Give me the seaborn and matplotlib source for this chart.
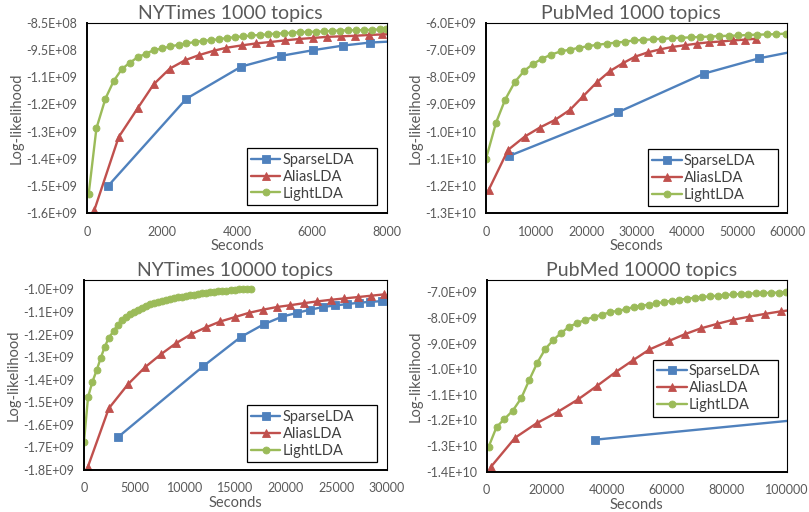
import matplotlib
matplotlib.use("Agg")
import matplotlib.pyplot as plt
import seaborn as sns

# ---- NYTimes 1000 topics ----
nyt1k_sparse_x = [560, 2651, 4116, 5164, 6027, 6827, 7538, 8250]
nyt1k_sparse_y = [-14.50e8, -11.29e8, -10.11e8, -9.72e8, -9.51e8, -9.34e8, -9.23e8, -9.18e8]
nyt1k_alias_x = [197, 845, 1352, 1779, 2205, 2613, 2987, 3379, 3717, 4142, 4516, 4889, 5271, 5644,
                 6027, 6400, 6764, 7156, 7520, 7876, 8250]
nyt1k_alias_y = [-15.38e8, -12.70e8, -11.64e8, -10.76e8, -10.19e8, -9.88e8, -9.69e8, -9.53e8, -9.42e8,
                 -9.33e8, -9.26e8, -9.21e8, -9.15e8, -9.10e8, -9.06e8, -9.02e8, -9.00e8, -8.98e8,
                 -8.95e8, -8.93e8, -8.91e8]
nyt1k_light_x = [45, 251, 491, 712, 925, 1139, 1352, 1565, 1779, 2011, 2224, 2445, 2651, 2872, 3085,
                 3299, 3512, 3725, 3956, 4169, 4382, 4604, 4818, 5031, 5244, 5458, 5671, 5893, 6107,
                 6320, 6533, 6747, 6960, 7182, 7396, 7609, 7822, 7982]
nyt1k_light_y = [-14.79e8, -12.38e8, -11.29e8, -10.64e8, -10.21e8, -9.97e8, -9.77e8, -9.64e8, -9.51e8,
                 -9.44e8, -9.37e8, -9.31e8, -9.26e8, -9.21e8, -9.17e8, -9.14e8, -9.11e8, -9.06e8,
                 -9.03e8, -9.00e8, -8.97e8, -8.95e8, -8.93e8, -8.90e8, -8.89e8, -8.87e8, -8.85e8,
                 -8.84e8, -8.83e8, -8.82e8, -8.80e8, -8.79e8, -8.78e8, -8.78e8, -8.77e8, -8.76e8,
                 -8.74e8, -8.73e8]
nyt1k_yticks = [-1.55e9, -1.45e9, -1.35e9, -1.25e9, -1.15e9, -1.05e9, -9.5e8, -8.5e8]
nyt1k_yticklabels = ["-1.6E+09", "-1.5E+09", "-1.4E+09", "-1.3E+09", "-1.2E+09", "-1.1E+09",
                     "-9.5E+08", "-8.5E+08"]
nyt1k_xticks = [0, 2000, 4000, 6000, 8000]

# ---- PubMed 1000 topics ----
pub1k_sparse_x = [4667, 26267, 43400, 54333, 65000]
pub1k_sparse_y = [-10.89e9, -9.29e9, -7.87e9, -7.31e9, -6.92e9]
pub1k_alias_x = [533, 4400, 7733, 10733, 13733, 16733, 19400, 22067, 24733, 27333, 29667, 32200,
                 34667, 37067, 39533, 41933, 44333, 46800, 49200, 51667, 53733]
pub1k_alias_y = [-12.14e9, -10.67e9, -10.18e9, -9.85e9, -9.57e9, -9.20e9, -8.69e9, -8.19e9, -7.77e9,
                 -7.48e9, -7.25e9, -7.09e9, -6.98e9, -6.89e9, -6.83e9, -6.77e9, -6.72e9, -6.69e9,
                 -6.65e9, -6.62e9, -6.59e9]
pub1k_light_x = [0, 2000, 3800, 5733, 7600, 9400, 11200, 13000, 14933, 16733, 18533, 20400, 22200,
                 24067, 25867, 27667, 29467, 31360, 33250, 35140, 37030, 38930, 40820, 42710, 44600,
                 46490, 48390, 50280, 52170, 54060, 55950, 57840, 59730]
pub1k_light_y = [-11.00e9, -9.67e9, -8.83e9, -8.18e9, -7.77e9, -7.51e9, -7.32e9, -7.17e9, -7.05e9,
                 -6.99e9, -6.92e9, -6.86e9, -6.81e9, -6.77e9, -6.73e9, -6.70e9, -6.65e9, -6.63e9,
                 -6.61e9, -6.59e9, -6.57e9, -6.55e9, -6.54e9, -6.52e9, -6.51e9, -6.49e9, -6.48e9,
                 -6.47e9, -6.45e9, -6.44e9, -6.43e9, -6.42e9, -6.40e9]
pub1k_yticks = [-1.3e10, -1.2e10, -1.1e10, -1.0e10, -9e9, -8e9, -7e9, -6e9]
pub1k_yticklabels = ["-1.3E+10", "-1.2E+10", "-1.1E+10", "-1.0E+10", "-9.0E+09", "-8.0E+09",
                     "-7.0E+09", "-6.0E+09"]
pub1k_xticks = [0, 10000, 20000, 30000, 40000, 50000, 60000]

# ---- NYTimes 10000 topics ----
nyt10k_sparse_x = [3355, 11825, 15531, 17792, 19614, 21107, 22401, 23696, 24891, 26085, 27250,
                   28375, 29540]
nyt10k_sparse_y = [-1.655e9, -1.340e9, -1.211e9, -1.155e9, -1.121e9, -1.104e9, -1.090e9, -1.078e9,
                   -1.071e9, -1.065e9, -1.059e9, -1.055e9, -1.052e9]
nyt10k_alias_x = [368, 2459, 4382, 6043, 7604, 9100, 10593, 12087, 13511, 14934, 16328, 17722,
                  19116, 20450, 21804, 23138, 24462, 25786, 27120, 28444, 29738]
nyt10k_alias_y = [-1.788e9, -1.527e9, -1.419e9, -1.345e9, -1.288e9, -1.239e9, -1.199e9, -1.168e9,
                  -1.142e9, -1.123e9, -1.104e9, -1.090e9, -1.078e9, -1.070e9, -1.061e9, -1.053e9,
                  -1.046e9, -1.040e9, -1.034e9, -1.028e9, -1.022e9]
nyt10k_light_x = [0, 400, 836, 1264, 1663, 2061, 2459, 2927, 3325, 3723, 4120, 4520, 4920, 5320,
                  5720, 6120, 6520, 6920, 7320, 7720, 8120, 8520, 8920, 9320, 9720, 10120, 10520,
                  10920, 11320, 11720, 12120, 12520, 12920, 13320, 13720, 14120, 14520, 14920,
                  15320, 15720, 16120, 16560]
nyt10k_light_y = [-1.675e9, -1.477e9, -1.409e9, -1.357e9, -1.303e9, -1.254e9, -1.214e9, -1.185e9,
                  -1.158e9, -1.136e9, -1.121e9, -1.111e9, -1.101e9, -1.092e9, -1.083e9, -1.073e9,
                  -1.066e9, -1.060e9, -1.055e9, -1.050e9, -1.046e9, -1.042e9, -1.038e9, -1.035e9,
                  -1.032e9, -1.029e9, -1.026e9, -1.023e9, -1.020e9, -1.018e9, -1.016e9, -1.013e9,
                  -1.011e9, -1.009e9, -1.007e9, -1.005e9, -1.004e9, -1.002e9, -1.000e9, -0.999e9,
                  -0.998e9, -0.997e9]
nyt10k_yticks = [-1.8e9, -1.7e9, -1.6e9, -1.5e9, -1.4e9, -1.3e9, -1.2e9, -1.1e9, -1.0e9]
nyt10k_yticklabels = ["-1.8E+09", "-1.7E+09", "-1.6E+09", "-1.5E+09", "-1.4E+09", "-1.3E+09",
                      "-1.2E+09", "-1.1E+09", "-1.0E+09"]
nyt10k_xticks = [0, 5000, 10000, 15000, 20000, 25000, 30000]

# ---- PubMed 10000 topics ----
pub10k_sparse_x = [36233, 120000]
pub10k_sparse_y = [-12.75e9, -11.79e9]
pub10k_alias_x = [1467, 9567, 16667, 23800, 30467, 36800, 43133, 48900, 54233, 60667, 65900, 71233,
                  76800, 82133, 87467, 92800, 98133, 103500]
pub10k_alias_y = [-13.81e9, -12.67e9, -12.11e9, -11.66e9, -11.18e9, -10.65e9, -10.10e9, -9.64e9,
                  -9.23e9, -8.90e9, -8.64e9, -8.41e9, -8.23e9, -8.07e9, -7.95e9, -7.84e9, -7.74e9,
                  -7.66e9]
pub10k_light_x = [667, 3333, 5900, 8667, 11567, 14233, 16900, 19567, 22233, 24900, 27567, 30233,
                  32900, 35800, 38567, 41233, 43900, 46567, 49000, 51567, 54000, 56540, 59090,
                  61630, 64180, 66720, 69270, 71810, 74360, 76900, 79440, 81990, 84530, 87080,
                  89620, 92170, 94710, 97260, 99800]
pub10k_light_y = [-13.04e9, -12.26e9, -11.95e9, -11.63e9, -11.13e9, -10.42e9, -9.75e9, -9.21e9,
                  -8.86e9, -8.58e9, -8.34e9, -8.20e9, -8.07e9, -7.96e9, -7.87e9, -7.77e9, -7.72e9,
                  -7.65e9, -7.57e9, -7.52e9, -7.48e9, -7.43e9, -7.38e9, -7.33e9, -7.29e9, -7.25e9,
                  -7.21e9, -7.18e9, -7.16e9, -7.13e9, -7.11e9, -7.08e9, -7.07e9, -7.05e9, -7.04e9,
                  -7.03e9, -7.02e9, -7.01e9, -6.99e9]
pub10k_yticks = [-1.4e10, -1.3e10, -1.2e10, -1.1e10, -1.0e10, -9e9, -8e9, -7e9]
pub10k_yticklabels = ["-1.4E+10", "-1.3E+10", "-1.2E+10", "-1.1E+10", "-1.0E+10", "-9.0E+09",
                      "-8.0E+09", "-7.0E+09"]
pub10k_xticks = [0, 20000, 40000, 60000, 80000, 100000]

series_names = ["SparseLDA", "AliasLDA", "LightLDA"]
colors = ["#4F81BD", "#C0504D", "#9BBB59"]
markers = ["s", "^", "o"]
msizes = [5.5, 5.5, 5]

sns.set_theme(style="white")
plt.rcParams["font.family"] = ["Lato", "DejaVu Sans"]
TXT = "#595959"

W, H = 809, 512
fig = plt.figure(figsize=(W / 100, H / 100), dpi=100)


def make_ax(left, top, right, bottom):
    return fig.add_axes([left / W, 1 - bottom / H, (right - left) / W, (bottom - top) / H])


def draw_panel(ax, data, title, title_x, xlim, xticks, ylim, yticks, yticklabels, leg_box):
    for (xs, ys), name, c, m, ms in zip(data, series_names, colors, markers, msizes):
        sns.lineplot(x=xs, y=ys, ax=ax, color=c, marker=m, markersize=ms, linewidth=1.7,
                     markeredgecolor=c, markeredgewidth=0.6, label=name, sort=False,
                     estimator=None)
    ax.set_xlim(*xlim)
    ax.set_ylim(*ylim)
    ax.set_xticks(xticks)
    ax.set_xticklabels([str(t) for t in xticks])
    ax.set_yticks(yticks)
    ax.set_yticklabels(yticklabels)
    ax.tick_params(axis="both", length=0, labelsize=9, colors=TXT)
    ax.tick_params(axis="x", pad=9)
    ax.tick_params(axis="y", pad=7)
    ax.set_xlabel("Seconds", fontsize=10.5, color=TXT, labelpad=1)
    ax.set_ylabel("Log-likelihood", fontsize=10.5, color=TXT, labelpad=2)
    ax.set_title(title, fontsize=14, color=TXT, x=title_x, pad=3)
    for side in ["left", "bottom"]:
        ax.spines[side].set_color("black")
        ax.spines[side].set_linewidth(1.4)
    for side in ["top", "right"]:
        ax.spines[side].set_color("black")
        ax.spines[side].set_linewidth(0.8)
    leg = ax.legend(loc="lower left", bbox_to_anchor=leg_box, mode="expand", fontsize=10.5,
                    frameon=True, fancybox=False, edgecolor="black", framealpha=1,
                    borderpad=0.3, labelspacing=0.2, handlelength=2.0, handletextpad=0.15,
                    borderaxespad=0)
    leg.get_frame().set_linewidth(0.9)
    for t in leg.get_texts():
        t.set_color("#404040")


ax1 = make_ax(87, 22.7, 387, 213.3)
draw_panel(ax1, [(nyt1k_sparse_x, nyt1k_sparse_y), (nyt1k_alias_x, nyt1k_alias_y),
                 (nyt1k_light_x, nyt1k_light_y)],
           "NYTimes 1000 topics", 0.477, (0, 8000), nyt1k_xticks, (-1.55e9, -8.5e8),
           nyt1k_yticks, nyt1k_yticklabels, (0.533, 0.044, 0.434, 0.31))

ax2 = make_ax(486, 22.7, 787.3, 213.3)
draw_panel(ax2, [(pub1k_sparse_x, pub1k_sparse_y), (pub1k_alias_x, pub1k_alias_y),
                 (pub1k_light_x, pub1k_light_y)],
           "PubMed 1000 topics", 0.481, (0, 60000), pub1k_xticks, (-1.3e10, -6e9),
           pub1k_yticks, pub1k_yticklabels, (0.538, 0.038, 0.431, 0.31))

ax3 = make_ax(84, 279.7, 386.7, 470)
draw_panel(ax3, [(nyt10k_sparse_x, nyt10k_sparse_y), (nyt10k_alias_x, nyt10k_alias_y),
                 (nyt10k_light_x, nyt10k_light_y)],
           "NYTimes 10000 topics", 0.50, (0, 30000), nyt10k_xticks, (-1.8e9, -9.57e8),
           nyt10k_yticks, nyt10k_yticklabels, (0.538, 0.042, 0.430, 0.31))

ax4 = make_ax(486.5, 280, 787, 471.7)
draw_panel(ax4, [(pub10k_sparse_x, pub10k_sparse_y), (pub10k_alias_x, pub10k_alias_y),
                 (pub10k_light_x, pub10k_light_y)],
           "PubMed 10000 topics", 0.516, (0, 100000), pub10k_xticks, (-1.4e10, -6.52e9),
           pub10k_yticks, pub10k_yticklabels, (0.554, 0.287, 0.416, 0.31))

fig.savefig("out.png", dpi=100, facecolor="white")
